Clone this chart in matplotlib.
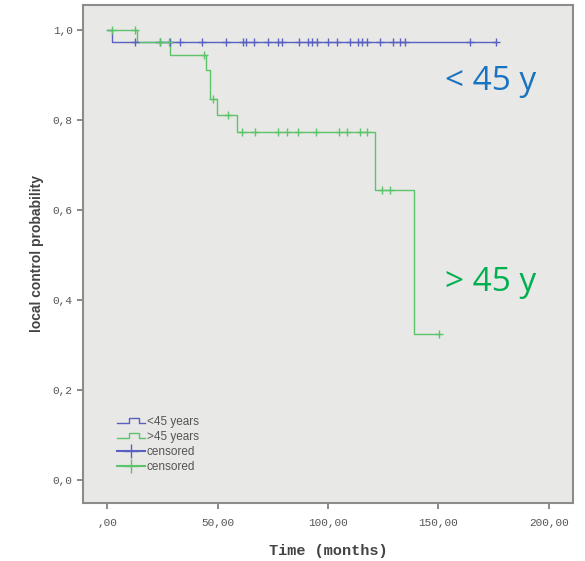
import numpy as np
import matplotlib
matplotlib.use("Agg")
import matplotlib.pyplot as plt
from matplotlib.lines import Line2D
from matplotlib.legend_handler import HandlerBase
from matplotlib.ticker import FuncFormatter

# Kaplan-Meier curves (time in months, survival level)
young_times = [0.0, 2.2, 176.3]
young_levels = [1.0, 0.974, 0.974]
young_censored = [12.7, 24.0, 28.5, 33.0, 42.8, 53.8, 61.4, 62.9, 66.5, 73.0,
                  77.5, 79.0, 87.0, 91.1, 92.6, 94.8, 100.1, 103.9, 110.0,
                  113.7, 115.2, 117.5, 123.5, 129.6, 132.6, 134.8, 164.3, 176.3]

old_times = [0.0, 13.4, 28.5, 44.8, 46.6, 49.6, 58.6, 121.5, 139.0, 150.4]
old_levels = [1.0, 0.974, 0.944, 0.911, 0.848, 0.811, 0.774, 0.644, 0.324, 0.324]
old_censored = [2.2, 12.6, 24.0, 28.0, 43.6, 48.0, 54.6, 61.0, 67.0, 77.5, 81.3,
                86.6, 94.6, 105.0, 108.7, 114.5, 117.5, 124.3, 128.0, 150.4]

C_YOUNG = "#5a60c0"
C_OLD = "#5cc46a"
C_YOUNG_TXT = "#1a73c0"
C_OLD_TXT = "#00b050"


def level_at(times, levels, t):
    idx = np.searchsorted(times, t, side="right") - 1
    return np.asarray(levels)[idx]


class StepHandler(HandlerBase):
    def create_artists(self, legend, orig_handle, xdescent, ydescent,
                       width, height, fontsize, trans):
        x = np.array([0, 0.45, 0.45, 0.8, 0.8, 1.0]) * width - xdescent
        y = np.array([0.2, 0.2, 0.8, 0.8, 0.2, 0.2]) * height - ydescent
        ln = Line2D(x, y, color=orig_handle.get_color(), lw=1, transform=trans)
        return [ln]


fig = plt.figure(figsize=(5.85, 5.61), dpi=100)
ax = fig.add_axes([0.1419, 0.1034, 0.8376, 0.8877])
ax.set_facecolor("#e8e8e6")

ax.step(young_times, young_levels, where="post", color=C_YOUNG, lw=1)
ax.step(old_times, old_levels, where="post", color=C_OLD, lw=1)
ax.plot(young_censored, level_at(young_times, young_levels, young_censored),
        ls="none", marker="+", ms=6, mew=1, color=C_YOUNG)
ax.plot(old_censored, level_at(old_times, old_levels, old_censored),
        ls="none", marker="+", ms=6, mew=1, color=C_OLD)

ax.set_xlim(-11, 211)
ax.set_ylim(-0.051, 1.056)
ax.set_xticks([0, 50, 100, 150, 200])
ax.set_yticks([0, 0.2, 0.4, 0.6, 0.8, 1.0])
ax.xaxis.set_major_formatter(FuncFormatter(
    lambda v, p: ",00" if v == 0 else f"{v:.2f}".replace(".", ",")))
ax.yaxis.set_major_formatter(FuncFormatter(
    lambda v, p: f"{v:.1f}".replace(".", ",")))
ax.tick_params(direction="out", length=4, width=1.2, color="#777",
               labelsize=8, labelcolor="#555")
ax.tick_params(axis="x", pad=7)
for lab in ax.get_xticklabels() + ax.get_yticklabels():
    lab.set_family("Liberation Mono")
for s in ax.spines.values():
    s.set_color("#8c8c8c")
    s.set_linewidth(1.5)

ax.set_xlabel("Time (months)", family="Liberation Mono", fontsize=11,
              fontweight="bold", color="#444", labelpad=11)
ax.set_ylabel("local control probability", family="Liberation Sans",
              fontsize=10, fontweight="bold", color="#444", labelpad=6)

ax.text(173.8, 0.885, "< 45 y", color=C_YOUNG_TXT, fontsize=24,
        family="Open Sans", ha="center", va="center")
ax.text(173.8, 0.44, "> 45 y", color=C_OLD_TXT, fontsize=24,
        family="Open Sans", ha="center", va="center")

h1 = Line2D([], [], color=C_YOUNG)
h2 = Line2D([], [], color=C_OLD)
h3 = Line2D([], [], color=C_YOUNG, marker="+", ms=10)
h4 = Line2D([], [], color=C_OLD, marker="+", ms=10)
ax.legend([h1, h2, h3, h4], ["<45 years", ">45 years", "censored", "censored"],
          handler_map={h1: StepHandler(), h2: StepHandler()},
          loc="lower left", bbox_to_anchor=(0.047, 0.038), frameon=False,
          prop={"family": "Liberation Sans", "size": 8.5}, labelcolor="#555",
          handlelength=2.4, handletextpad=0.15, labelspacing=0.27)

fig.savefig("out.png", dpi=100)
